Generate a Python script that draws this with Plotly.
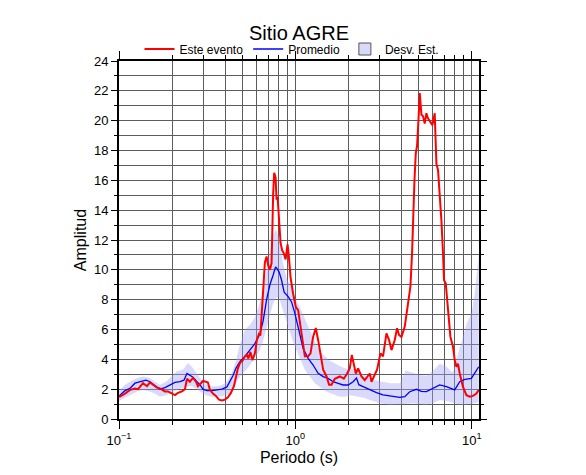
import plotly.graph_objects as go

# ---------------- data ----------------
# "Este evento" (red)
event_period = [0.100, 0.1013, 0.1081, 0.1154, 0.1232, 0.1281, 0.1368, 0.1441, 0.1498, 0.1558,
                0.1642, 0.1707, 0.1752, 0.1822, 0.1895, 0.1971, 0.2076, 0.2159, 0.2275, 0.2366,
                0.2429, 0.2525, 0.2626, 0.2731, 0.2803, 0.2915, 0.2992, 0.3111, 0.3193, 0.3278,
                0.3409, 0.3545, 0.3687, 0.3834, 0.3987, 0.4146, 0.4312, 0.4484, 0.4603, 0.4724,
                0.4849, 0.5042, 0.5175, 0.5312, 0.5417, 0.5560, 0.5706, 0.5896, 0.6052, 0.6212,
                0.6334, 0.6460, 0.6588, 0.6718, 0.6869, 0.7015, 0.7172, 0.7331, 0.7485, 0.7584,
                0.7724, 0.7825, 0.7929, 0.8064, 0.8245, 0.8419, 0.8607, 0.8801, 0.9033, 0.9188,
                0.9394, 0.9716, 1.0065, 1.037, 1.084, 1.132, 1.182, 1.219, 1.261, 1.306,
                1.346, 1.408, 1.438, 1.503, 1.554, 1.604, 1.674, 1.787, 1.883, 1.966,
                2.036, 2.090, 2.145, 2.202, 2.269, 2.372, 2.476, 2.643, 2.703, 2.821,
                2.906, 3.038, 3.142, 3.286, 3.399, 3.508, 3.662, 3.774, 3.873, 3.996,
                4.172, 4.356, 4.494, 4.590, 4.650, 4.737, 4.817, 4.899, 4.989, 5.075,
                5.188, 5.298, 5.416, 5.536, 5.654, 5.781, 5.988, 6.170, 6.310, 6.443,
                6.586, 6.734, 6.877, 6.967, 7.124, 7.340, 7.574, 7.834, 8.010, 8.189,
                8.363, 8.551, 8.928, 9.333, 9.743, 10.17, 10.63, 10.96]
event_amp = [1.55, 1.5, 1.7, 1.95, 2.05, 2.0, 2.4, 2.2, 2.45, 2.3,
             2.1, 2.05, 1.95, 1.85, 1.85, 1.75, 1.6, 1.75, 1.85, 2.0,
             2.7, 2.5, 2.75, 2.5, 2.2, 2.4, 2.55, 2.5, 2.45, 1.95,
             1.7, 1.55, 1.3, 1.25, 1.3, 1.45, 1.75, 2.2, 2.8, 3.4,
             3.75, 3.95, 4.2, 4.3, 4.05, 4.5, 3.95, 4.4, 5.3, 5.7,
             5.6, 7.0, 9.1, 10.5, 10.9, 10.3, 10.0, 10.45, 15.1, 16.5,
             16.2, 14.7, 14.9, 13.3, 11.8, 11.3, 11.1, 10.7, 11.7, 10.9,
             9.5, 8.4, 7.5, 7.3, 5.74, 4.2, 4.2, 4.4, 5.5, 6.1,
             5.3, 3.95, 3.3, 2.85, 2.3, 2.3, 2.7, 2.85, 2.7, 3.05,
             3.4, 4.3, 3.6, 3.05, 3.4, 2.85, 2.6, 3.05, 2.5, 3.05,
             3.3, 4.4, 4.2, 5.74, 5.3, 4.62, 5.3, 6.08, 5.63, 5.5,
             6.2, 7.75, 8.9, 11.1, 13.8, 16.0, 17.8, 18.3, 20.0, 21.85,
             20.4, 20.3, 19.8, 20.5, 20.15, 20.0, 19.7, 20.5, 17.1, 16.7,
             15.1, 13.3, 11.1, 9.3, 9.1, 7.5, 5.5, 4.85, 3.95, 3.5,
             3.7, 3.05, 2.15, 1.6, 1.5, 1.55, 1.7, 1.95]

# "Promedio" (blue)
mean_period = [0.100, 0.1013, 0.1081, 0.1154, 0.1232, 0.1315, 0.1422, 0.1498, 0.1600, 0.1707,
               0.1822, 0.1945, 0.2076, 0.2216, 0.2335, 0.2429, 0.2525, 0.2626, 0.2767, 0.2877,
               0.2992, 0.3152, 0.3365, 0.3639, 0.3834, 0.4093, 0.4256, 0.4426, 0.4603, 0.4849,
               0.5175, 0.5524, 0.5896, 0.6293, 0.6571, 0.6869, 0.7172, 0.7485, 0.7724, 0.7856,
               0.8095, 0.8353, 0.8641, 0.9104, 0.9517, 0.9935, 1.0197, 1.0605, 1.107, 1.182,
               1.261, 1.346, 1.438, 1.534, 1.637, 1.748, 1.866, 1.992, 2.126, 2.222,
               2.290, 2.422, 2.643, 2.885, 3.142, 3.431, 3.662, 3.909, 4.172, 4.453,
               4.861, 5.188, 5.536, 6.035, 6.586, 7.190, 8.010, 8.551, 9.129, 9.961,
               10.40, 10.96]
mean_amp = [1.5, 1.6, 1.9, 2.05, 2.4, 2.5, 2.6, 2.5, 2.25, 2.0,
            2.1, 2.3, 2.45, 2.5, 2.6, 3.05, 2.95, 2.8, 2.5, 2.3,
            2.0, 1.9, 1.9, 1.95, 2.0, 2.15, 2.5, 2.9, 3.4, 3.85,
            4.2, 4.6, 5.05, 5.7, 6.6, 8.0, 9.0, 9.65, 10.2, 10.1,
            9.85, 9.3, 8.5, 8.2, 7.85, 7.1, 6.5, 5.5, 4.73, 4.07,
            3.62, 3.06, 2.84, 2.72, 2.5, 2.39, 2.28, 2.28, 2.5, 2.75,
            2.3, 2.17, 1.95, 1.77, 1.61, 1.54, 1.5, 1.45, 1.5, 1.83,
            1.99, 1.85, 1.83, 2.05, 2.28, 2.17, 1.95, 2.5, 2.66, 2.72,
            3.06, 3.5]

# "Desv. Est." band (mean +/- one standard deviation)
std_period = [0.100, 0.1081, 0.1154, 0.1265, 0.1368, 0.1498, 0.1600, 0.1707, 0.1846, 0.1997,
              0.2131, 0.2304, 0.2460, 0.2592, 0.2731, 0.2877, 0.3111, 0.3365, 0.3639, 0.3935,
              0.4146, 0.4368, 0.4603, 0.4849, 0.5175, 0.5524, 0.5896, 0.6293, 0.6545, 0.6896,
              0.7172, 0.7458, 0.7754, 0.8064, 0.8496, 0.8951, 0.9554, 1.0065, 1.0605, 1.132,
              1.208, 1.289, 1.377, 1.470, 1.569, 1.674, 1.787, 1.907, 2.036, 2.173,
              2.320, 2.476, 2.643, 2.821, 3.011, 3.431, 3.909, 4.227, 4.632, 5.075,
              5.559, 6.012, 6.586, 7.217, 7.804, 8.223, 8.777, 9.369, 10.0, 10.40,
              10.96]
std_upper = [1.9, 2.3, 2.5, 2.75, 2.85, 2.75, 2.5, 2.3, 2.5, 2.9,
             3.2, 3.3, 3.75, 3.5, 3.1, 2.75, 2.3, 2.2, 2.2, 2.35,
             2.6, 3.1, 3.9, 5.0, 6.0, 6.3, 6.8, 7.8, 8.6, 10.0,
             11.2, 12.3, 12.7, 12.2, 10.5, 9.4, 8.8, 8.0, 7.5, 6.7,
             6.0, 5.2, 4.6, 4.2, 3.9, 3.7, 3.55, 3.4, 3.3, 3.4,
             3.15, 2.9, 2.7, 2.6, 2.55, 2.4, 2.4, 3.25, 3.1, 2.95,
             2.9, 3.2, 3.7, 3.5, 3.1, 4.0, 5.3, 6.4, 7.1, 8.4,
             11.0]
std_lower = [1.2, 1.4, 1.6, 1.85, 1.95, 1.85, 1.7, 1.5, 1.6, 1.8,
             1.95, 2.1, 2.2, 2.2, 2.05, 1.85, 1.6, 1.5, 1.5, 1.55,
             1.65, 1.8, 2.4, 2.85, 3.2, 3.6, 4.1, 4.6, 5.2, 6.2,
             7.0, 7.7, 8.1, 8.2, 7.3, 6.4, 5.4, 4.7, 4.1, 3.3,
             2.85, 2.4, 2.15, 1.9, 1.75, 1.6, 1.5, 1.5, 1.6, 1.55,
             1.5, 1.4, 1.27, 1.15, 1.05, 0.95, 0.95, 1.0, 1.05, 1.0,
             0.95, 1.05, 1.25, 1.2, 1.05, 1.0, 0.95, 0.95, 1.0, 1.05,
             1.15]

x_major_vals = [0.1, 1, 10]
x_major_text = ["10<sup>\u22121</sup>", "10<sup>0</sup>", "10<sup>1</sup>"]
x_minor_vals = [0.2, 0.3, 0.4, 0.5, 0.6, 0.7, 0.8, 0.9, 2, 3, 4, 5, 6, 7, 8, 9]

# ---------------- figure ----------------
FONT = "Liberation Sans, Arial, Helvetica, sans-serif"
GRID = "#5c5c5c"
BAND_FILL = "rgba(160,160,245,0.40)"

# the page body adds an 8px margin around the figure
W, H = 578, 467

fig = go.Figure()
fig.add_trace(go.Scatter(x=std_period, y=std_lower, mode="lines",
                         line=dict(width=0), showlegend=False, hoverinfo="skip"))
fig.add_trace(go.Scatter(x=std_period, y=std_upper, mode="lines", fill="tonexty",
                         fillcolor=BAND_FILL, line=dict(width=0),
                         showlegend=False, hoverinfo="skip"))
fig.add_trace(go.Scatter(x=mean_period, y=mean_amp, mode="lines", name="Promedio",
                         line=dict(color="#0000ff", width=1.3), legendrank=2))
fig.add_trace(go.Scatter(x=event_period, y=event_amp, mode="lines", name="Este evento",
                         line=dict(color="#ff0000", width=2), legendrank=1))
# legend entry for the band
fig.add_trace(go.Scatter(x=[None], y=[None], mode="markers", name="Desv. Est.",
                         marker=dict(symbol="square", size=12, color="#d9d9f9",
                                     line=dict(color="#555555", width=1)),
                         legendrank=3))

fig.update_layout(
    width=W, height=H,
    margin=dict(l=111, r=107, t=53, b=56, autoexpand=False),
    paper_bgcolor="white", plot_bgcolor="white",
    font=dict(family=FONT, color="black", size=13),
    title=dict(text="Sitio AGRE", x=291 / W, xanchor="center",
               y=1 - 25 / H, yanchor="middle",
               font=dict(family=FONT, size=20, color="black")),
    legend=dict(orientation="h", xref="container", yref="container",
                x=284 / W, xanchor="center", y=1 - 41 / H, yanchor="middle",
                traceorder="normal",
                bgcolor="rgba(0,0,0,0)", font=dict(family=FONT, size=12, color="black"),
                itemclick=False),
    showlegend=True,
)

fig.update_xaxes(
    type="log", range=[-1, 1.0414],
    tickvals=x_major_vals, ticktext=x_major_text,
    ticks="outside", ticklen=8, tickwidth=1, tickcolor="black",
    showline=True, linecolor="black", linewidth=2, mirror="ticks",
    showgrid=True, gridcolor=GRID, gridwidth=1, zeroline=False,
    tickfont=dict(family=FONT, size=13, color="black"),
    minor=dict(tickvals=x_minor_vals, ticks="outside", ticklen=4, tickwidth=1,
               tickcolor="black", showgrid=True, gridcolor=GRID, gridwidth=1),
    title=dict(text="Periodo (s)", standoff=5,
               font=dict(family=FONT, size=16, color="black")),
)
fig.update_yaxes(
    range=[0, 24], dtick=2, tick0=0,
    ticks="outside", ticklen=6, tickwidth=1, tickcolor="black",
    showline=True, linecolor="black", linewidth=2, mirror="ticks",
    showgrid=True, gridcolor=GRID, gridwidth=1, zeroline=False,
    tickfont=dict(family=FONT, size=13, color="black"),
    minor=dict(dtick=1, ticks="outside", ticklen=3, tickwidth=1,
               tickcolor="black", showgrid=True, gridcolor=GRID, gridwidth=1),
    title=dict(text="Amplitud", standoff=3,
               font=dict(family=FONT, size=16, color="black")),
)

fig.write_html("out.html")
